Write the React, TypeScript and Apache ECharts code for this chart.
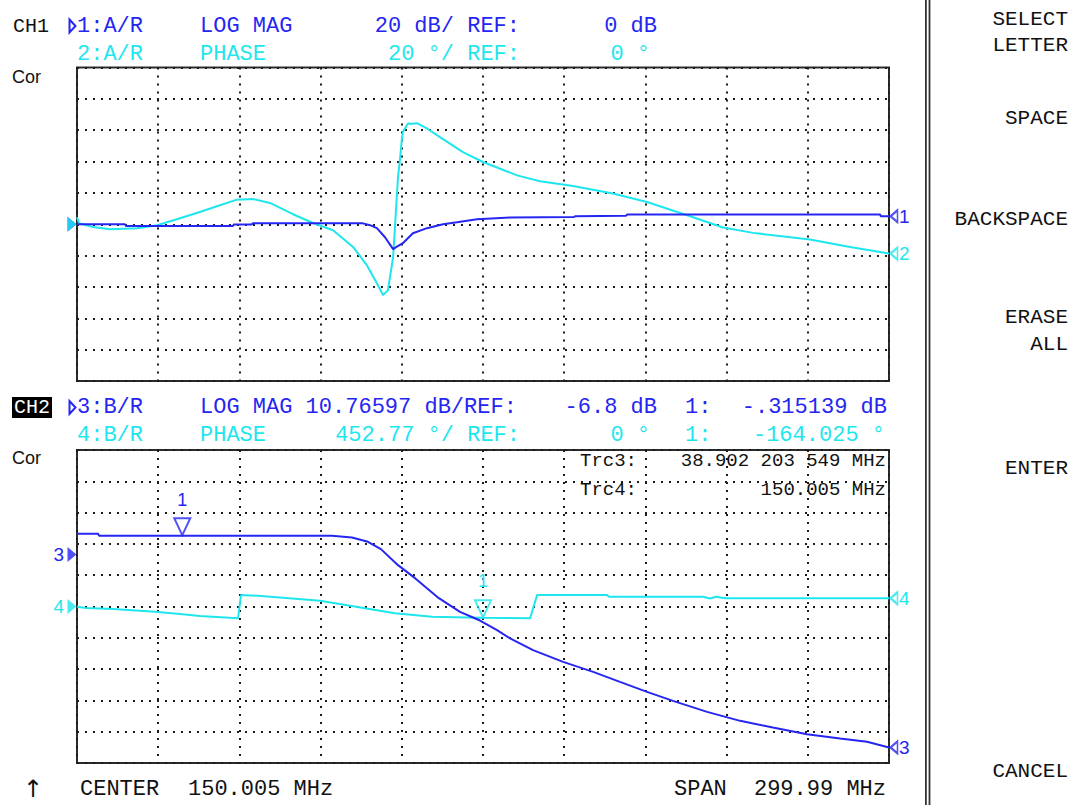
import { useEffect, useRef } from "react";
import * as echarts from "echarts";

// Display colours and fonts
const BLUE = "#2626f2";
const CYAN = "#1ee6ee";
const MONO = '"Liberation Mono", "DejaVu Sans Mono", monospace';
const SANS = '"Liberation Sans", Arial, sans-serif';

// Sweep (MHz)
const startMHz = 0.01;
const stopMHz = 300;
const divisions = 10;

// Channel 1 scale settings
const ch1MagScaleDb = 20;
const ch1MagRefDb = 0;
const ch1MagRefPos = 5;
const ch1PhaseScaleDeg = 20;
const ch1PhaseRefDeg = 0;
const ch1PhaseRefPos = 5;

// Channel 2 scale settings
const ch2MagScaleDb = 10.76597;
const ch2MagRefDb = -6.8;
const ch2MagRefPos = 6.66;
const ch2PhaseScaleDeg = 452.77;
const ch2PhaseRefDeg = 0;
const ch2PhaseRefPos = 5;

// Markers
const marker1FreqTrc3 = 38.902203549;
const marker1ValTrc3 = -0.315139;
const marker1FreqTrc4 = 150.005;
const marker1ValTrc4 = -164.025;

// Trace 1: A/R log magnitude (dB)
const trace1Freq = [0.01, 17.7, 18.1, 57.6, 58.0, 64.6, 65.0, 105.3, 108.3, 110.8, 113.8, 116.8, 117.9, 120.4, 124.1, 129.3, 135.2, 140.4, 147.8, 160.0, 183.6, 184.0, 202.8, 203.2, 296.7, 297.0, 300];
const trace1Db = [0, 0, -1.1, -1.1, -0.1, -0.1, 0.7, 0.7, -0.6, -2.5, -8.3, -15.9, -14.6, -12.1, -5.7, -2.5, 0, 1.3, 3.2, 4.3, 4.6, 5.1, 5.4, 6.2, 6.2, 5.1, 5.1];

// Trace 2: A/R phase (deg)
const trace2Freq = [0.01, 0.75, 5.9, 12.2, 22.2, 29.6, 36.9, 45.4, 51.7, 59.1, 65.0, 71.3, 79.8, 87.2, 94.6, 102.0, 107.1, 110.8, 113.1, 114.9, 116.8, 118.6, 119.3, 120.1, 120.4, 122.3, 123.8, 125.6, 129.3, 134.1, 142.6, 150.0, 162.6, 171.1, 183.3, 198.0, 210.6, 225.4, 238.7, 249.8, 270.8, 285.6, 300];
const trace2Deg = [4.5, 0.6, -1.7, -3.2, -2.5, -0.6, 3.2, 7.8, 11.5, 15.7, 16.1, 13.6, 6.4, 0.8, -3.8, -14.5, -26.1, -37.6, -45.2, -42.0, -20.8, 30.1, 40.8, 55.6, 58.8, 64.3, 64.1, 64.5, 61.1, 55.6, 46.0, 39.7, 31.2, 27.4, 24.4, 19.6, 14.2, 5.7, -2.1, -5.5, -9.7, -14.5, -18.7];

// Trace 3: B/R log magnitude (dB)
const trace3Freq = [0.01, 7.8, 8.2, marker1FreqTrc3, 94.2, 101.6, 107.5, 112.3, 118.6, 124.9, 133.7, 141.5, 148.9, 155.2, 160.0, 168.5, 179.6, 190.7, 200.6, 210.6, 220.2, 232.8, 245.0, 257.1, 269.7, 281.9, 291.9, 300];
const trace3Db = [0.35, 0.35, -0.32, marker1ValTrc3, -0.32, -0.92, -2.43, -4.94, -10.45, -14.92, -21.8, -26.51, -29.5, -32.8, -35.66, -39.68, -43.71, -47.15, -50.59, -54.03, -57.12, -60.91, -64.0, -66.27, -68.58, -70.06, -71.22, -73.15];

// Trace 4: B/R phase (deg)
const trace4Freq = [0.01, 3.3, 13.3, 28.8, 38.1, 45.4, 59.5, 60.6, 66.9, 89.8, 117.5, 131.2, 148.9, marker1FreqTrc4, 167.4, 170.0, 195.8, 196.6, 231.3, 233.9, 236.1, 239.4, 300];
const trace4Deg = [-3, -22, -36, -75, -108, -137, -171, 166, 156, 84, -98, -148, -162, marker1ValTrc4, -171, 166, 166, 142, 142, 116, 142, 119, 119];

// Annotation text
const ch1Row1 = { ch: "CH1", trace: "1:A/R", format: "LOG MAG", scale: "20 dB/ REF:", ref: "0 dB" };
const ch1Row2 = { trace: "2:A/R", format: "PHASE", scale: "20 °/ REF:", ref: "0 °" };
const ch2Row1 = { ch: "CH2", trace: "3:B/R", format: "LOG MAG 10.76597 dB/REF:", ref: "-6.8 dB", mk: "1:", mkVal: "-.315139 dB" };
const ch2Row2 = { trace: "4:B/R", format: "PHASE", scale: "452.77 °/ REF:", ref: "0 °", mk: "1:", mkVal: "-164.025 °" };
const markerReadout = [
  { label: "Trc3:", value: "38.902 203 549 MHz" },
  { label: "Trc4:", value: "150.005 MHz" },
];
const softkeys = [
  { text: "SELECT", y: 19 },
  { text: "LETTER", y: 45 },
  { text: "SPACE", y: 118 },
  { text: "BACKSPACE", y: 219 },
  { text: "ERASE", y: 317 },
  { text: "ALL", y: 344 },
  { text: "ENTER", y: 468 },
  { text: "CANCEL", y: 771 },
];
const footer = { center: "CENTER", centerVal: "150.005 MHz", span: "SPAN", spanVal: "299.99 MHz" };

const zip = (xs: number[], ys: number[]) => xs.map((x, i) => [x, ys[i]]);
const rangeOf = (ref: number, scale: number, pos: number) => ({
  min: ref - pos * scale,
  max: ref + (divisions - pos) * scale,
});

const dotted = { show: true, lineStyle: { color: "#1a1a1a", width: 2, type: [2, 6] } };
const divAxis = (gridIndex: number) => ({
  gridIndex,
  type: "value",
  min: 0,
  max: divisions,
  interval: 1,
  axisLine: { show: false },
  axisTick: { show: false },
  axisLabel: { show: false },
  splitLine: dotted,
});
const freqAxis = (gridIndex: number) => ({ gridIndex, type: "value", min: startMHz, max: stopMHz, show: false });
const valAxis = (gridIndex: number, r: { min: number; max: number }) => ({
  gridIndex,
  type: "value",
  min: r.min,
  max: r.max,
  show: false,
});

const traceSeries = (xi: number, yi: number, data: number[][], color: string, z: number) => ({
  type: "line",
  xAxisIndex: xi,
  yAxisIndex: yi,
  data,
  symbol: "none",
  showSymbol: false,
  lineStyle: { color, width: 2 },
  itemStyle: { color },
  z,
  silent: true,
});

const RIGHT_TRI = "path://M0,0L10,5L0,10Z";
const LEFT_TRI = "path://M10,0L0,5L10,10Z";
const DOWN_TRI = "path://M0,0L10,0L5,10Z";

// Reference-level pointer at the left edge of a graticule
const refPointer = (xi: number, yi: number, value: number, color: string) => ({
  type: "scatter",
  xAxisIndex: xi,
  yAxisIndex: yi,
  data: [[startMHz, value]],
  symbol: RIGHT_TRI,
  symbolSize: [9, 15],
  symbolOffset: [-5, 0],
  itemStyle: { color },
  clip: false,
  silent: true,
  z: 6,
});

// Trace-end pointer at the right edge of a graticule
const endPointer = (xi: number, yi: number, data: number[], color: string) => ({
  type: "scatter",
  xAxisIndex: xi,
  yAxisIndex: yi,
  data: [[stopMHz, data[data.length - 1]]],
  symbol: LEFT_TRI,
  symbolSize: [7, 12],
  symbolOffset: [5, 0],
  itemStyle: { color: "rgba(255,255,255,0)", borderColor: color, borderWidth: 2 },
  clip: false,
  silent: true,
  z: 6,
});

// Marker on a trace
const markerSeries = (xi: number, yi: number, f: number, v: number, color: string) => ({
  type: "scatter",
  xAxisIndex: xi,
  yAxisIndex: yi,
  data: [[f, v]],
  symbol: DOWN_TRI,
  symbolSize: [16, 17],
  symbolOffset: [0, -9],
  itemStyle: { color: "rgba(255,255,255,0)", borderColor: color, borderWidth: 2 },
  clip: false,
  silent: true,
  z: 7,
});

const text = (t: string, x: number, y: number, fill: string, font: string, align = "left") => ({
  type: "text",
  x,
  y,
  silent: true,
  z: 10,
  style: {
    text: t,
    fill,
    font,
    textAlign: align,
    textVerticalAlign: "middle",
    align,
    verticalAlign: "middle",
  },
});

const pointer = (y: number, color: string) => ({
  type: "polygon",
  silent: true,
  z: 10,
  shape: { points: [[69.5, y - 6.5], [75.5, y], [69.5, y + 6.5]] },
  style: { fill: "none", stroke: color, lineWidth: 2 },
});

export default function App() {
  const ref = useRef<HTMLDivElement>(null);

  useEffect(() => {
    if (!ref.current) return;
    const chart = echarts.init(ref.current, null, { renderer: "svg" });

    const r1 = rangeOf(ch1MagRefDb, ch1MagScaleDb, ch1MagRefPos);
    const r2 = rangeOf(ch1PhaseRefDeg, ch1PhaseScaleDeg, ch1PhaseRefPos);
    const r3 = rangeOf(ch2MagRefDb, ch2MagScaleDb, ch2MagRefPos);
    const r4 = rangeOf(ch2PhaseRefDeg, ch2PhaseScaleDeg, ch2PhaseRefPos);

    const H1 = "22px " + MONO;
    const HK = "21px " + MONO;
    const HR = "19px " + MONO;

    const graphic: any[] = [
      // channel 1 header
      text(ch1Row1.ch, 13, 26, "#111", "20px " + MONO),
      pointer(26, BLUE),
      text(ch1Row1.trace, 77, 26, BLUE, H1),
      text(ch1Row1.format, 200, 26, BLUE, H1),
      text(ch1Row1.scale, 520, 26, BLUE, H1, "right"),
      text(ch1Row1.ref, 657, 26, BLUE, H1, "right"),
      text(ch1Row2.trace, 77, 54, CYAN, H1),
      text(ch1Row2.format, 200, 54, CYAN, H1),
      text(ch1Row2.scale, 520, 54, CYAN, H1, "right"),
      text(ch1Row2.ref, 650, 54, CYAN, H1, "right"),
      text("Cor", 12, 77, "#111", "18px " + SANS),
      // channel 2 header
      { type: "rect", silent: true, z: 9, shape: { x: 12, y: 397, width: 40, height: 21 }, style: { fill: "#000" } },
      text(ch2Row1.ch, 32, 407.5, "#fff", "20px " + MONO, "center"),
      pointer(407.5, BLUE),
      text(ch2Row1.trace, 77, 407.5, BLUE, H1),
      text(ch2Row1.format, 200, 407.5, BLUE, H1),
      text(ch2Row1.ref, 657, 407.5, BLUE, H1, "right"),
      text(ch2Row1.mk, 685, 407.5, BLUE, H1),
      text(ch2Row1.mkVal, 887, 407.5, BLUE, H1, "right"),
      text(ch2Row2.trace, 77, 435.5, CYAN, H1),
      text(ch2Row2.format, 200, 435.5, CYAN, H1),
      text(ch2Row2.scale, 520, 435.5, CYAN, H1, "right"),
      text(ch2Row2.ref, 650, 435.5, CYAN, H1, "right"),
      text(ch2Row2.mk, 685, 435.5, CYAN, H1),
      text(ch2Row2.mkVal, 885, 435.5, CYAN, H1, "right"),
      text("Cor", 12, 458, "#111", "18px " + SANS),
      // marker readout
      text(markerReadout[0].label, 580, 461, "#111", HR),
      text(markerReadout[0].value, 886, 461, "#111", HR, "right"),
      text(markerReadout[1].label, 580, 490, "#111", HR),
      text(markerReadout[1].value, 886, 490, "#111", HR, "right"),
      // footer
      text("↑", 33, 789, "#111", '24px "DejaVu Sans", sans-serif', "center"),
      text(footer.center, 80, 789, "#111", H1),
      text(footer.centerVal, 188, 789, "#111", H1),
      text(footer.span, 674, 789, "#111", H1),
      text(footer.spanVal, 886, 789, "#111", H1, "right"),
      // softkey separator
      { type: "rect", silent: true, shape: { x: 925, y: 0, width: 1.8, height: 805 }, style: { fill: "#333" } },
      { type: "rect", silent: true, shape: { x: 928.6, y: 0, width: 1.8, height: 805 }, style: { fill: "#333" } },
      ...softkeys.map((k) => text(k.text, 1068, k.y, "#111", HK, "right")),
    ];

    chart.setOption({
      animation: false,
      backgroundColor: "#ffffff",
      grid: [
        { left: 77, top: 67.5, width: 812, height: 313.5, show: true, borderColor: "#2a2a2a", borderWidth: 2, backgroundColor: "transparent" },
        { left: 77, top: 450, width: 812, height: 313, show: true, borderColor: "#2a2a2a", borderWidth: 2, backgroundColor: "transparent" },
      ],
      xAxis: [freqAxis(0), divAxis(0), freqAxis(1), divAxis(1)],
      yAxis: [divAxis(0), valAxis(0, r1), valAxis(0, r2), divAxis(1), valAxis(1, r3), valAxis(1, r4)],
      series: [
        traceSeries(0, 2, zip(trace2Freq, trace2Deg), CYAN, 3),
        traceSeries(0, 1, zip(trace1Freq, trace1Db), BLUE, 4),
        traceSeries(2, 5, zip(trace4Freq, trace4Deg), CYAN, 3),
        traceSeries(2, 4, zip(trace3Freq, trace3Db), BLUE, 4),
        refPointer(0, 1, ch1MagRefDb, BLUE),
        refPointer(0, 2, ch1PhaseRefDeg, CYAN),
        refPointer(2, 4, ch2MagRefDb, BLUE),
        refPointer(2, 5, ch2PhaseRefDeg, CYAN),
        endPointer(0, 1, trace1Db, BLUE),
        endPointer(0, 2, trace2Deg, CYAN),
        endPointer(2, 4, trace3Db, BLUE),
        endPointer(2, 5, trace4Deg, CYAN),
        markerSeries(2, 4, marker1FreqTrc3, marker1ValTrc3, BLUE),
        markerSeries(2, 5, marker1FreqTrc4, marker1ValTrc4, CYAN),
      ],
      graphic,
    });

    // Pointer and marker numbers, placed through the axes' own scales
    const toPx = (xi: number, yi: number, x: number, y: number) =>
      chart.convertToPixel({ xAxisIndex: xi, yAxisIndex: yi } as any, [x, y]) as number[];
    const NUM = "19px " + SANS;
    const MK = "18px " + SANS;
    const p3 = toPx(2, 4, startMHz, ch2MagRefDb);
    const p4 = toPx(2, 5, startMHz, ch2PhaseRefDeg);
    const e1 = toPx(0, 1, stopMHz, trace1Db[trace1Db.length - 1]);
    const e2 = toPx(0, 2, stopMHz, trace2Deg[trace2Deg.length - 1]);
    const e3 = toPx(2, 4, stopMHz, trace3Db[trace3Db.length - 1]);
    const e4 = toPx(2, 5, stopMHz, trace4Deg[trace4Deg.length - 1]);
    const m3 = toPx(2, 4, marker1FreqTrc3, marker1ValTrc3);
    const m4 = toPx(2, 5, marker1FreqTrc4, marker1ValTrc4);
    const numbers = [
      text("3", p3[0] - 13, p3[1], BLUE, NUM, "right"),
      text("4", p4[0] - 13, p4[1], CYAN, NUM, "right"),
      text("1", e1[0] + 10, e1[1], BLUE, NUM),
      text("2", e2[0] + 10, e2[1], CYAN, NUM),
      text("3", e3[0] + 10, e3[1], BLUE, NUM),
      text("4", e4[0] + 10, e4[1], CYAN, NUM),
      text("1", m3[0], m3[1] - 36, BLUE, MK, "center"),
      text("1", m4[0], m4[1] - 37, CYAN, MK, "center"),
    ];
    chart.setOption({ graphic: [...graphic, ...numbers] });

    return () => chart.dispose();
  }, []);

  return (
    <div
      ref={ref}
      style={{ position: "absolute", left: 0, top: 0, width: 1074, height: 805, background: "#fff" }}
    />
  );
}
